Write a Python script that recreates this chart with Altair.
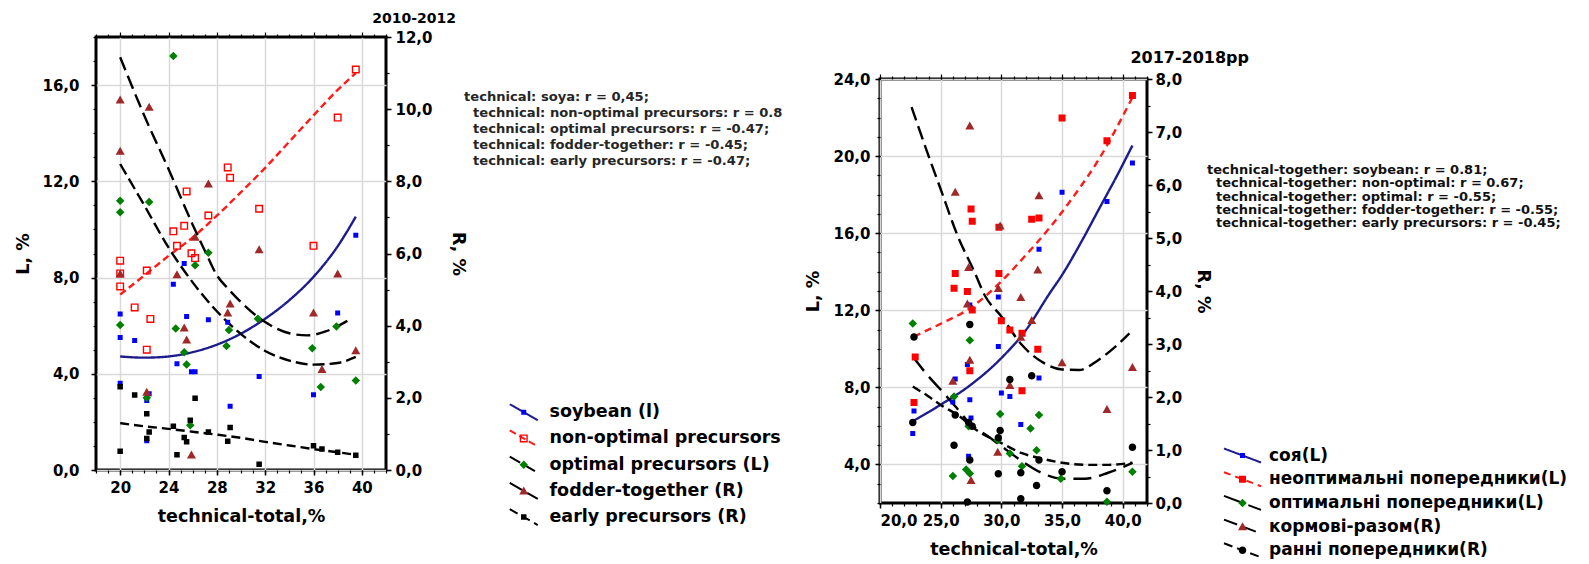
import altair as alt
import pandas as pd

FONT = "DejaVu Sans"
ZW = "\u200b"  # keeps the marker legend separate from the line legend

# ======================= LEFT PANEL (2010-2012) =======================
A_NAMES = ["soybean (l)", "non-optimal precursors", "optimal precursors (L)",
           "fodder-together (R)", "early precursors (R)"]

a_soy_x = [39.5, 25.3, 24.4, 20.0, 25.5, 27.3, 28.9, 38.0, 20.0, 21.2, 24.7, 25.9, 26.2, 31.5, 20.0, 22.4, 22.2, 29.1, 36.0, 22.2]
a_soy_y = [9.76, 8.58, 7.72, 6.49, 6.38, 6.25, 6.14, 6.53, 5.51, 5.38, 4.42, 4.08, 4.08, 3.89, 3.61, 3.17, 2.89, 2.65, 3.13, 1.22]

a_non_x = [39.5, 38.0, 28.9, 29.1, 25.5, 31.5, 27.3, 24.4, 25.3, 24.7, 36.0, 25.9, 26.2, 20.0, 22.2, 20.0, 20.0, 21.2, 22.5, 22.2]
a_non_y = [16.65, 14.65, 12.58, 12.15, 11.58, 10.86, 10.58, 9.92, 10.15, 9.32, 9.32, 9.01, 8.81, 8.70, 8.29, 8.17, 7.63, 6.76, 6.28, 5.0]

a_opt_x = [24.4, 20.0, 22.4, 20.0, 27.3, 26.2, 20.0, 24.6, 29.0, 31.4, 37.9, 28.8, 35.9, 25.3, 25.5, 36.6, 39.5, 22.2, 25.8]
a_opt_y = [17.21, 11.19, 11.14, 10.71, 9.03, 8.51, 6.03, 5.88, 5.82, 6.29, 5.97, 5.15, 5.06, 4.89, 4.39, 3.45, 3.72, 3.0, 1.86]

a_fod_x = [20.0, 22.4, 20.0, 27.3, 26.2, 31.5, 20.0, 24.7, 38.0, 29.1, 28.9, 36.0, 25.3, 25.5, 39.5, 36.7, 22.2, 25.9]
a_fod_y = [10.26, 10.06, 8.84, 7.93, 6.46, 6.11, 5.44, 5.42, 5.44, 4.61, 4.36, 4.36, 3.94, 3.61, 3.31, 2.79, 2.16, 0.42]

a_ear_x = [20.0, 21.2, 26.2, 22.2, 25.8, 29.1, 24.4, 22.4, 27.3, 25.3, 25.5, 28.9, 22.2, 20.0, 24.7, 31.5, 36.0, 36.7, 38.0, 39.5]
a_ear_y = [2.31, 2.08, 1.99, 1.56, 1.38, 1.18, 1.21, 1.05, 1.05, 0.90, 0.78, 0.80, 0.87, 0.52, 0.42, 0.16, 0.67, 0.58, 0.49, 0.41]

# fitted curves
a_soy_fx = [20, 22, 24, 26, 28, 30, 32, 34, 36, 38, 39.5]
a_soy_fy = [4.72, 4.67, 4.72, 4.90, 5.21, 5.67, 6.29, 7.06, 8.03, 9.30, 10.53]
a_non_fx = [20, 22.2, 24, 26, 28, 30, 32, 34, 36, 38, 39.5]
a_non_fy = [7.29, 8.17, 8.90, 9.67, 10.57, 11.55, 12.56, 13.65, 14.74, 15.80, 16.50]
a_opt_fx = [20, 22, 24, 26, 28, 30, 32, 34, 36, 38, 39.5]
a_opt_fy = [12.72, 11.0, 9.25, 7.8, 6.6, 5.65, 4.95, 4.55, 4.38, 4.45, 4.7]
a_fod_fx = [20, 22, 24, 26, 27.2, 28, 29, 30, 32, 34, 35.5, 37, 39.1]
a_fod_fy = [11.44, 9.82, 8.34, 6.8, 5.94, 5.4, 5.0, 4.65, 4.10, 3.79, 3.73, 3.84, 4.19]
a_ear_fx = [20, 22, 24, 26, 28, 30, 32, 34, 36, 38, 39.5]
a_ear_fy = [1.30, 1.21, 1.14, 1.06, 0.98, 0.89, 0.78, 0.68, 0.58, 0.49, 0.42]

A_NOTE = ["technical: soya: r = 0,45;",
          "technical: non-optimal precursors: r = 0.8",
          "technical: optimal precursors: r = -0.47;",
          "technical: fodder-together: r = -0.45;",
          "technical: early precursors: r = -0.47;"]

# ======================= RIGHT PANEL (2017-2018) =======================
B_NAMES = ["соя(L)", "неоптимальні попередники(L)", "оптимальні попередники(L)",
           "кормові-разом(R)", "ранні попередники(R)"]

b_soy_x = [40.8, 38.7, 35.0, 33.1, 29.75, 27.4, 29.75, 27.2, 33.1, 26.2, 30.0, 30.7, 27.4, 26.0, 22.8, 27.5, 31.6, 22.7, 27.3]
b_soy_y = [19.64, 17.64, 18.12, 15.17, 12.69, 12.27, 10.12, 9.19, 8.48, 8.43, 7.71, 7.53, 7.36, 7.24, 6.77, 6.41, 6.07, 5.6, 4.43]

b_non_x = [40.8, 35.0, 38.7, 27.5, 27.6, 29.8, 32.5, 33.1, 26.2, 29.8, 26.1, 27.2, 27.6, 30.0, 30.7, 31.7, 33.0, 22.9, 27.4, 31.7, 22.8]
b_non_y = [23.14, 21.98, 20.79, 17.26, 16.62, 16.31, 16.72, 16.79, 13.91, 13.91, 13.14, 12.98, 12.02, 11.45, 10.98, 10.81, 9.98, 9.58, 8.86, 7.83, 7.22]

b_opt_x = [22.7, 27.4, 26.1, 29.9, 33.1, 32.4, 27.3, 29.7, 30.7, 32.9, 31.7, 34.9, 40.8, 27.1, 27.4, 26.0, 38.7]
b_opt_y = [11.31, 10.45, 7.52, 6.62, 6.57, 5.86, 5.98, 5.26, 4.57, 4.74, 3.91, 3.26, 3.62, 3.74, 3.53, 3.4, 2.07]

b_fod_x = [27.4, 26.2, 33.1, 29.9, 27.3, 33.0, 29.75, 31.6, 27.2, 32.5, 31.6, 27.4, 35.0, 40.8, 26.0, 30.7, 38.7, 29.7, 27.5]
b_fod_y = [7.12, 5.87, 5.8, 5.23, 4.45, 4.4, 4.05, 3.88, 3.76, 3.45, 3.13, 2.7, 2.65, 2.56, 2.3, 2.22, 1.77, 0.96, 0.43]

b_ear_x = [22.8, 27.4, 30.7, 32.5, 22.7, 26.2, 27.3, 27.6, 29.9, 29.75, 26.1, 27.4, 33.1, 40.8, 29.75, 31.6, 35.0, 32.9, 38.7, 31.6, 27.2]
b_ear_y = [3.13, 3.37, 2.33, 2.4, 1.52, 1.66, 1.52, 1.45, 1.37, 1.23, 1.09, 0.81, 0.81, 1.05, 0.55, 0.57, 0.59, 0.33, 0.23, 0.08, 0.02]

b_soy_fx = [22.7, 25, 27.3, 30, 32, 34, 35, 36.5, 38, 39.5, 40.8]
b_soy_fy = [6.24, 7.1, 8.05, 9.52, 10.95, 12.9, 13.83, 15.45, 17.2, 18.95, 20.55]
b_non_fx = [22.8, 25, 27.4, 30, 32, 34, 36, 38, 40.8]
b_non_fy = [10.64, 11.3, 12.1, 13.5, 14.85, 16.3, 17.95, 19.8, 23.05]
b_opt_fx = [22.7, 24, 25, 26.2, 27.5, 28.9, 30, 31.7, 33.3, 35, 36.9, 38.8, 40.8]
b_opt_fy = [9.6, 8.57, 7.88, 7.02, 6.07, 5.46, 4.95, 4.17, 3.57, 3.26, 3.26, 3.57, 4.08]
b_fod_fx = [22.6, 24, 25, 26.4, 27.8, 28.65, 30, 31.7, 33.3, 35, 36.4, 38, 39.4, 40.55]
b_fod_fy = [7.47, 6.55, 5.92, 5.04, 4.35, 3.91, 3.52, 2.98, 2.67, 2.52, 2.51, 2.7, 2.95, 3.2]
b_ear_fx = [22.7, 24, 25, 26.4, 28.1, 30, 31.7, 33.3, 35, 36.9, 38.8, 40.8]
b_ear_fy = [2.2, 2.01, 1.85, 1.66, 1.35, 1.13, 0.94, 0.84, 0.76, 0.72, 0.72, 0.76]

B_NOTE = ["technical-together: soybean: r = 0.81;",
          "technical-together: non-optimal: r = 0.67;",
          "technical-together: optimal: r = -0.55;",
          "technical-together: fodder-together: r = -0.55;",
          "technical-together: early precursors: r = -0.45;"]

# ---------------- styles ----------------
MARK_COLORS = ["#0000ff", "#ff0000", "#008000", "#a02828", "#000000"]
LINE_COLORS = ["#1c1c8c", "#ff1a1a", "#000000", "#000000", "#000000"]

SQ = "M-0.5,-0.5H0.5V0.5H-0.5Z"
SQ_BIG = "M-0.7,-0.7H0.7V0.7H-0.7Z"
SQ_EARLY = "M-0.55,-0.55H0.55V0.55H-0.55Z"
RING = "M-0.8,-0.8H0.8V0.8H-0.8Z M-0.52,-0.52V0.52H0.52V-0.52Z"
DIAM = "M0,-0.85L0.85,0L0,0.85L-0.85,0Z"
TRI = "M0,-0.85L0.9,0.75H-0.9Z"
CIRC = "M-0.75,0A0.75,0.75,0,1,0,0.75,0A0.75,0.75,0,1,0,-0.75,0Z"

LABEL_COMMA = "replace(format(datum.value, '.1f'), '.', ',')"


def frame(xs, ys, names):
    rows = []
    for x, y, n in zip(xs, ys, names):
        for a, b in zip(x, y):
            rows.append({"x": a, "y": b, "series": n})
    return pd.DataFrame(rows)


def main_axis(orient, values, **kw):
    d = dict(orient=orient, values=values, domain=False, ticks=True, tickSize=5, tickWidth=1.5,
             tickColor="black", labelFont=FONT, labelFontSize=15, labelFontWeight="bold",
             labelColor="black", titleFont=FONT, titleFontSize=17.5, titleFontWeight="bold",
             titleColor="black", grid=False)
    d.update(kw)
    return alt.Axis(**d)


def minor_axis(orient, values, size=3):
    return alt.Axis(orient=orient, values=values, labels=False, domain=False, grid=False,
                    ticks=True, tickSize=size, tickWidth=1.2, tickColor="black", title=None)


def panel(P):
    xs = alt.Scale(domain=P["xdom"], nice=False, zero=False)
    sL = alt.Scale(domain=P["Ldom"], nice=False, zero=False)
    sR = alt.Scale(domain=P["Rdom"], nice=False, zero=False)
    names = P["names"]
    mnames = [n + ZW for n in names]
    # invisible diagonal added to every marker so both legends get identical row heights
    shapes = [s + " " + P["legPath"] for s in P["shapes"]]

    common_leg = dict(orient="none", legendX=P["legX"], legendY=P["legY"], title=None, padding=0,
                      symbolSize=100, symbolStrokeWidth=2, labelFont=FONT,
                      labelFontSize=P["legFS"], labelFontWeight="bold", labelOffset=P["legOff"],
                      labelLimit=800, rowPadding=P["legRow"])
    line_leg = alt.Legend(symbolType=P["legPath"], labelColor="black", **common_leg)
    mark_leg = alt.Legend(symbolStrokeColor="transparent", labelColor="transparent",
                          symbolOpacity=1, **common_leg)

    color = alt.Color("series:N", scale=alt.Scale(domain=names, range=LINE_COLORS), legend=line_leg)
    dash = alt.StrokeDash("series:N", scale=alt.Scale(domain=names, range=P["dash"]), legend=line_leg)
    fill = alt.Fill("series:N", scale=alt.Scale(domain=mnames, range=MARK_COLORS), legend=mark_leg)
    shape = alt.Shape("series:N", scale=alt.Scale(domain=mnames, range=shapes), legend=mark_leg)

    xkw = dict(labelPadding=P["xLabPad"], title="technical-total,%", titlePadding=P["xTitlePad"],
               grid=True, gridColor="#d9d9d9", gridWidth=1.5)
    if P["xComma"]:
        xkw["labelExpr"] = LABEL_COMMA

    lc = alt.Chart(frame(P["Lfx"], P["Lfy"], names[:3])).mark_line(
        strokeWidth=2.4, interpolate="monotone").encode(
        x=alt.X("x:Q", scale=xs, axis=main_axis("bottom", P["xmaj"], **xkw)),
        y=alt.Y("y:Q", scale=sL, axis=main_axis(
            "left", P["Lmaj"], labelExpr=LABEL_COMMA, labelPadding=P["LLabPad"], title="L, %",
            titlePadding=P["LTitlePad"], grid=True, gridColor="#d9d9d9", gridWidth=1.5)),
        color=color, strokeDash=dash)

    rc = alt.Chart(frame(P["Rfx"], P["Rfy"], names[3:])).mark_line(
        strokeWidth=2.4, interpolate="monotone").encode(
        x=alt.X("x:Q", scale=xs, axis=minor_axis("top", P["xmaj"], 5)),
        y=alt.Y("y:Q", scale=sR, axis=main_axis(
            "right", P["Rmaj"], labelExpr=LABEL_COMMA, labelPadding=P["RLabPad"], title="R, %",
            titlePadding=P["RTitlePad"])),
        color=color, strokeDash=dash)

    lp = alt.Chart(frame(P["Lx"], P["Ly"], mnames[:3])).mark_point(
        filled=True, opacity=1, size=100, strokeWidth=0).encode(
        x=alt.X("x:Q", scale=xs, axis=minor_axis("bottom", P["xmin"])),
        y=alt.Y("y:Q", scale=sL, axis=minor_axis("left", P["Lmin"])),
        fill=fill, shape=shape)

    rp = alt.Chart(frame(P["Rx"], P["Ry"], mnames[3:])).mark_point(
        filled=True, opacity=1, size=100, strokeWidth=0).encode(
        x=alt.X("x:Q", scale=xs, axis=minor_axis("top", P["xmin"])),
        y=alt.Y("y:Q", scale=sR, axis=minor_axis("right", P["Rmin"])),
        fill=fill, shape=shape)

    txt = dict(align="left", baseline="alphabetic", lineBreak="\n", lineHeight=P["noteLH"],
               font=FONT, fontSize=P["noteFS"], fontWeight="bold", color=P["noteColor"])
    note1 = alt.Chart(pd.DataFrame({"t": [P["note"][0]]})).mark_text(**txt).encode(
        text="t:N", x=alt.value(P["noteX"]), y=alt.value(P["noteY"]))
    note2 = alt.Chart(pd.DataFrame({"t": ["\n".join(P["note"][1:])]})).mark_text(**txt).encode(
        text="t:N", x=alt.value(P["noteX"] + P["noteIndent"]),
        y=alt.value(P["noteY"] + P["noteLH"]))

    return alt.layer(lc, rc, lp, rp, note1, note2).resolve_scale(y="independent").resolve_axis(
        x="independent", y="independent").properties(
        width=P["W"], height=P["H"],
        view=alt.ViewBackground(stroke="black", strokeWidth=3, fill="white"),
        title=alt.TitleParams(P["title"], anchor="end", frame="group", dx=P["tdx"],
                              offset=P["toff"], font=FONT, fontSize=P["tFS"],
                              fontWeight="bold", color="black"))


left = panel(dict(
    names=A_NAMES, W=290, H=433,
    xdom=[18, 42], xmaj=[20, 24, 28, 32, 36, 40], xmin=list(range(18, 43)), xComma=False,
    Ldom=[0, 18], Lmaj=[0, 4, 8, 12, 16], Lmin=list(range(0, 19)),
    Rdom=[0, 12], Rmaj=[0, 2, 4, 6, 8, 10, 12], Rmin=list(range(0, 13)),
    Lx=[a_soy_x, a_non_x, a_opt_x], Ly=[a_soy_y, a_non_y, a_opt_y],
    Rx=[a_fod_x, a_ear_x], Ry=[a_fod_y, a_ear_y],
    Lfx=[a_soy_fx, a_non_fx, a_opt_fx], Lfy=[a_soy_fy, a_non_fy, a_opt_fy],
    Rfx=[a_fod_fx, a_ear_fx], Rfy=[a_fod_fy, a_ear_fy],
    shapes=[SQ, RING, DIAM, TRI, SQ_EARLY],
    dash=[[1, 0], [7, 4], [12, 5], [14, 6], [9, 5]],
    legX=419, legY=366.5, legFS=17.5, legOff=17, legRow=1.2, legPath="M-2.8,-1.6L2.8,1.6",
    xLabPad=5, xTitlePad=12, LLabPad=12, LTitlePad=9.4, RLabPad=4, RTitlePad=16,
    note=A_NOTE, noteX=368, noteY=64, noteLH=16, noteFS=13.1, noteIndent=9, noteColor="#262626",
    title="2010-2012", tdx=70, toff=4.5, tFS=14))

right_main = panel(dict(
    names=B_NAMES, W=267, H=424,
    xdom=[20, 42], xmaj=[20, 25, 30, 35, 40], xmin=list(range(20, 43)), xComma=True,
    Ldom=[2, 24], Lmaj=[4, 8, 12, 16, 20, 24], Lmin=list(range(2, 25)),
    Rdom=[0, 8], Rmaj=[0, 1, 2, 3, 4, 5, 6, 7, 8], Rmin=[x / 2 for x in range(0, 17)],
    Lx=[b_soy_x, b_non_x, b_opt_x], Ly=[b_soy_y, b_non_y, b_opt_y],
    Rx=[b_fod_x, b_ear_x], Ry=[b_fod_y, b_ear_y],
    Lfx=[b_soy_fx, b_non_fx, b_opt_fx], Lfy=[b_soy_fy, b_non_fy, b_opt_fy],
    Rfx=[b_fod_fx, b_ear_fx], Rfy=[b_fod_fy, b_ear_fy],
    shapes=[SQ, SQ_BIG, DIAM, TRI, CIRC],
    dash=[[1, 0], [7, 5], [18, 8], [14, 6], [9, 5]],
    legX=354, legY=410, legFS=17, legOff=18, legRow=0.7, legPath="M-3.7,-1.4L3.7,1.4",
    xLabPad=5, xTitlePad=12, LLabPad=5, LTitlePad=10, RLabPad=3, RTitlePad=12,
    note=B_NOTE, noteX=327, noteY=95, noteLH=13.3, noteFS=13, noteIndent=9, noteColor="#111111",
    title="2017-2018pp", tdx=102, toff=6.4, tFS=16))

spacer = alt.Chart(pd.DataFrame({"a": [0]})).mark_text(text="", opacity=0).encode(
    x=alt.value(0)).properties(width=267, height=42,
                               view=alt.ViewBackground(stroke="transparent", strokeWidth=0))

right = alt.vconcat(spacer, right_main, spacing=0, bounds="flush")

chart = alt.hconcat(left, right, spacing=494, bounds="flush",
                    padding={"left": 5, "top": 2, "right": 2, "bottom": 0}).resolve_scale(
    color="independent", strokeDash="independent", fill="independent", shape="independent"
).configure_view(stroke="transparent").configure(background="white")

chart.save("out.html", embed_options={"renderer": "svg", "actions": False})
